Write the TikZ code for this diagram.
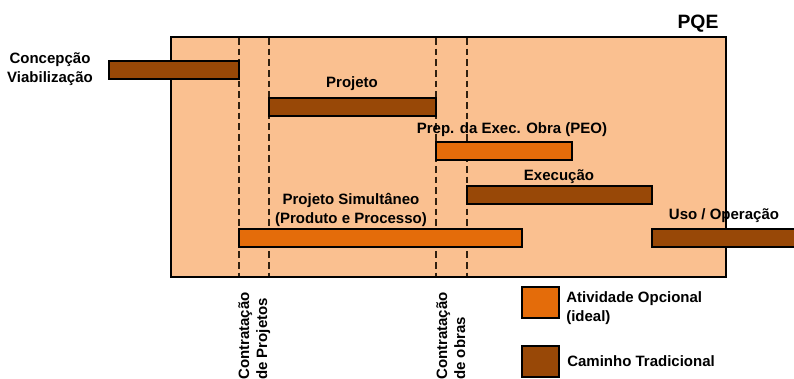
\documentclass[tikz,border=0pt]{standalone}
\usepackage{fontspec}
\setmainfont{Liberation Sans}
\definecolor{peach}{HTML}{FAC090}
\definecolor{optorange}{HTML}{E46C0A}
\definecolor{tradbrown}{HTML}{984807}
\begin{document}
\begin{tikzpicture}[x=0.75pt,y=-0.75pt,
  lbl/.style={font=\bfseries\fontsize{11.25}{14.25}\selectfont, inner sep=0pt, align=center},
  rotlbl/.style={font=\bfseries\fontsize{11.25}{13.5}\selectfont, inner sep=0pt, align=left, rotate=90},
  barbox/.style={draw=black, line width=1.5pt},
  optbar/.style={barbox, fill=optorange},
  tradbar/.style={barbox, fill=tradbrown},
  milestone/.style={draw=black!75!brown, line width=0.9pt, dash pattern=on 5pt off 3pt}]
\useasboundingbox (0,0) rectangle (794,379);
% main frame
\draw[fill=peach, line width=1.5pt] (171,37) rectangle (726,277);
% milestone lines
\foreach \xx in {239,269,436,467}
  \draw[milestone] (\xx,38) -- (\xx,276);
% bars
\draw[tradbar] (109,61) rectangle (239,79);
\draw[tradbar] (269,98) rectangle (436,116);
\draw[optbar] (436,142) rectangle (572,160);
\draw[tradbar] (467,186) rectangle (652,204);
\draw[optbar] (239,229) rectangle (522,247);
\draw[tradbar] (652,229) rectangle (800,247);
% labels
\node[lbl, font=\bfseries\fontsize{14.5}{16}\selectfont] (pqe) at (698,24) {PQE};
\node[lbl] (conc) at (50,69) {Concepção\\Viabilização};
\node[lbl] (proj) at (352,84) {Projeto};
\node[lbl] (peo) at (512,130) {Prep. da Exec. Obra (PEO)};
\node[lbl] (exec) at (559,177) {Execução};
\node[lbl] (psim) at (351,210) {Projeto Simultâneo\\(Produto e Processo)};
\node[lbl] (uso) at (724,216) {Uso / Operação};
% rotated milestone labels
\node[rotlbl, anchor=south west] (cproj) at (270.5,380) {Contratação\\de Projetos};
\node[rotlbl, anchor=south west] (cobra) at (465.5,380) {Contratação\\de obras};
% legend
\draw[optbar] (522,287) rectangle (559,318);
\draw[tradbar] (522,346) rectangle (559,377);
\node[lbl, align=left, anchor=west] (lopt) at (566,308) {Atividade Opcional\\(ideal)};
\node[lbl, anchor=west] (ltrad) at (567,361) {Caminho Tradicional};
\end{tikzpicture}
\end{document}
